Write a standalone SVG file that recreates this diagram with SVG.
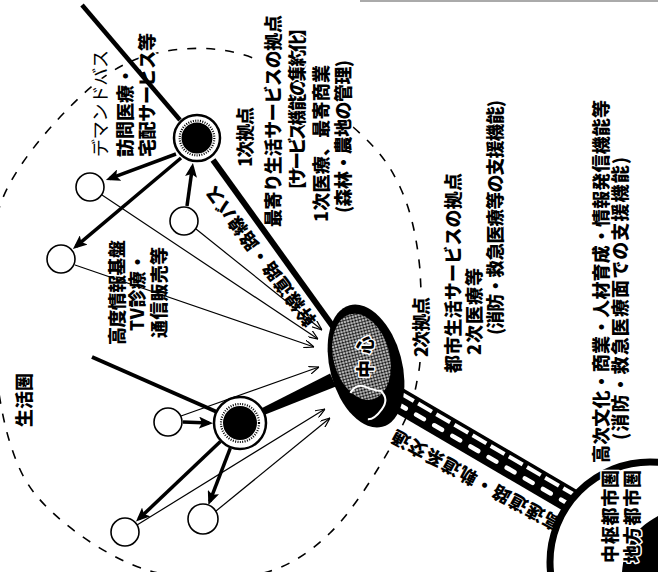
<svg xmlns="http://www.w3.org/2000/svg" width="658" height="572" viewBox="0 0 658 572">
<style>
.t{font-family:"Noto Sans CJK JP","Noto Sans CJK SC",sans-serif;font-weight:900;font-size:18px;fill:#000;stroke:#fff;stroke-width:3;paint-order:stroke;stroke-linejoin:round}
.dash{fill:none;stroke:#000;stroke-width:1.6;stroke-dasharray:9 10}
.thin{fill:none;stroke:#000;stroke-width:1.2;marker-end:url(#oa)}
.thick{fill:none;stroke:#000;stroke-width:3.5;marker-end:url(#ah)}
.sc{fill:#fff;stroke:#000;stroke-width:1.6}
.road{stroke:#000;fill:none}
</style>
<defs>
<marker id="ah" viewBox="0 0 14 12" markerWidth="14" markerHeight="12" refX="10" refY="6" orient="auto" markerUnits="userSpaceOnUse"><path d="M0,0 L14,6 L0,12 L3,6z" fill="#000"/></marker>
<marker id="oa" viewBox="0 0 10 8" markerWidth="10" markerHeight="8" refX="10" refY="4" orient="auto" markerUnits="userSpaceOnUse"><path d="M0,0 L10,4 L0,8" fill="none" stroke="#000" stroke-width="1.2"/></marker>
<pattern id="dots" width="3" height="3" patternUnits="userSpaceOnUse"><rect width="3" height="3" fill="#fff"/><circle cx="1.5" cy="1.5" r="1.25" fill="#000"/></pattern>
</defs>
<rect width="658" height="572" fill="#fff"/>
<line x1="360" y1="1" x2="658" y2="1" stroke="#aaa" stroke-width="2"/>

<g id="seikatsuken">
<path class="dash" d="M353,127 C377.5,148.5 388.8,163.2 400,187 C411.2,210.8 417,238.7 420,270 L421,290"/>
<path class="dash" d="M420,362 C419.5,368 419,371 418,375 C413.5,403.8 407.7,416.7 393,443 C378.3,469.3 353,511 330,533 C307,555 285.5,568.8 255,575 C224.5,581.2 180.7,580.3 147,570 C113.3,559.7 75.8,534.2 53,513 C30.2,491.8 20.2,475.2 10,443 C-0.2,410.8 -6.7,360.5 -8,320 C-9.3,279.5 -12.7,237.2 2,200 C16.7,162.8 54.2,121.5 80,97 C105.8,72.5 128.2,59.5 157,53 C185.8,46.5 220.3,45.7 253,58"/>
</g>

<g id="labels">
<text class="t" transform="translate(31,427) rotate(-90)" textLength="54">生活圏</text>
<text class="t" style="font-weight:400" transform="translate(107,157) rotate(-90)" textLength="107">デマンドバス</text>
<text class="t" transform="translate(132,157) rotate(-90)">訪問医療・</text>
<text class="t" transform="translate(154,157) rotate(-90)" textLength="124">宅配サービス等</text>
<text class="t" transform="translate(252,167) rotate(-90)" textLength="60">1次拠点</text>
<text class="t" transform="translate(280,227) rotate(-90)" textLength="212">最寄り生活サービスの拠点</text>
<text class="t" font-size="15.5" transform="translate(304,199) rotate(-90)" textLength="180">【サービス機能の集約化】</text>
<text class="t" transform="translate(328,222) rotate(-90)" textLength="157">1次医療、最寄商業</text>
<text class="t" transform="translate(350,213) rotate(-90)" textLength="153">(森林・農地の管理)</text>
<text class="t" transform="translate(124,345) rotate(-90)" textLength="105">高度情報基盤</text>
<text class="t" transform="translate(144,331) rotate(-90)" textLength="78">TV診療・</text>
<text class="t" transform="translate(166,338) rotate(-90)" textLength="91">通信販売等</text>
<text class="t" transform="translate(428,357) rotate(-90)" textLength="60">2次拠点</text>
<text class="t" transform="translate(460,373) rotate(-90)" textLength="200">都市生活サービスの拠点</text>
<text class="t" transform="translate(481,355) rotate(-90)" textLength="87">2次医療等</text>
<text class="t" transform="translate(502,335) rotate(-90)" textLength="235">(消防・救急医療等の支援機能)</text>
<text class="t" transform="translate(608,463) rotate(-90)" textLength="363">高次文化・商業・人材育成・情報発信機能等</text>
<text class="t" transform="translate(627,440) rotate(-90)" textLength="283">(消防・救急医療面での支援機能)</text>
<text class="t" transform="translate(317,320) rotate(-127)" textLength="170">幹線道路・路線バス</text>
<text class="t" transform="translate(563,520) rotate(-151.5)" textLength="190">高速道路・軌道系交通</text>
</g>

<g id="highway">
<line x1="395" y1="398" x2="578" y2="505" stroke="#000" stroke-width="25"/>
<line x1="400" y1="393" x2="580" y2="498" stroke="#fff" stroke-width="4" stroke-dasharray="16 5"/>
<line x1="398" y1="404" x2="572" y2="506" stroke="#fff" stroke-width="4.5" stroke-dasharray="9 12" stroke-linecap="round"/>
</g>

<g id="connectors">
<line class="road" x1="82" y1="5" x2="180" y2="120" stroke-width="4.5"/>
<line class="road" x1="213" y1="160" x2="334" y2="328" stroke-width="6"/>
<line class="road" x1="92" y1="357" x2="217" y2="412" stroke-width="4"/>
<polygon points="260.6,408.8 330.1,373.6 335.9,386.4 263.4,415.2" fill="#000"/>
<line class="thick" x1="176" y1="154" x2="109.7" y2="178.6"/>
<line class="thick" x1="181" y1="158" x2="76" y2="246.4" stroke-width="4"/>
<line class="thick" x1="187" y1="206" x2="192.4" y2="167"/>
<line class="thick" x1="183" y1="422" x2="209" y2="423" stroke-width="4"/>
<line class="thick" x1="220.4" y1="441.6" x2="138.9" y2="518.8"/>
<line class="thick" x1="230.3" y1="448.2" x2="209.8" y2="501.3"/>
<line class="thin" x1="196" y1="229" x2="322" y2="330"/>
<line class="thin" x1="102" y1="195" x2="318" y2="339"/>
<line class="thin" x1="75" y1="265" x2="314" y2="347"/>
<line class="thin" x1="181" y1="416" x2="319" y2="367"/>
<line class="thin" x1="137" y1="525" x2="325" y2="409"/>
<line class="thin" x1="216" y1="511" x2="330" y2="418"/>
</g>

<g id="node-1ji-upper">
<circle cx="197" cy="138" r="23" fill="#fff" stroke="#000" stroke-width="2.5"/>
<circle cx="197" cy="138" r="15.5" fill="#000"/>
<circle cx="197" cy="138" r="17.3" fill="none" stroke="#000" stroke-width="2.2" stroke-dasharray="1 1.4"/>
</g>
<g id="node-1ji-lower">
<circle cx="240" cy="423" r="26" fill="#fff" stroke="#000" stroke-width="2.5"/>
<circle cx="240" cy="423" r="17" fill="#000"/>
<circle cx="240" cy="423" r="19" fill="none" stroke="#000" stroke-width="2.2" stroke-dasharray="1 1.4"/>
</g>
<g id="node-a"><circle class="sc" cx="90" cy="187" r="14"/></g>
<g id="node-b"><circle class="sc" cx="61" cy="259" r="14"/></g>
<g id="node-c"><circle class="sc" cx="184" cy="221" r="14"/></g>
<g id="node-d"><circle class="sc" cx="168" cy="422" r="14"/></g>
<g id="node-e"><circle class="sc" cx="125" cy="532" r="14"/></g>
<g id="node-f"><circle class="sc" cx="203" cy="519" r="15"/></g>

<g id="node-center">
<g transform="translate(366,366) rotate(-15)">
<ellipse rx="36" ry="63" fill="#000"/>
<ellipse cx="-2" cy="-10" rx="28" ry="44" fill="url(#dots)"/>
<path d="M-22,22 q8,-8 16,-2 t14,8 q6,10 -4,18 t-16,6" fill="none" stroke="#fff" stroke-width="2"/>
</g>
<text class="t" font-size="20" transform="translate(372,378) rotate(-90)" textLength="42">中心</text>
</g>

<g id="node-metro">
<circle cx="650" cy="562" r="100" fill="#fff" stroke="#000" stroke-width="7"/>
<path d="M622,572 C624,548 632,530 658,516 L658,572 Z" fill="#000"/>
<text class="t" transform="translate(617,563) rotate(-90)" textLength="93">中枢都市圏</text>
<text class="t" transform="translate(639,563) rotate(-90)" textLength="93">地方都市圏</text>
</g>
</svg>
